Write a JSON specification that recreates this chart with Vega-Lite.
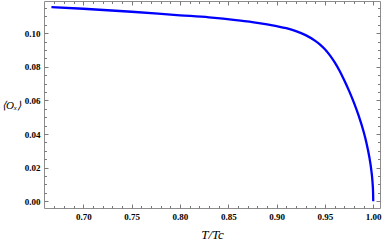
{
  "$schema": "https://vega.github.io/schema/vega-lite/v6.json",
  "autosize": {"type": "none"},
  "padding": {"left": 44, "top": 1, "right": 2, "bottom": 33},
  "width": 336,
  "height": 207,
  "background": "white",
  "config": {
    "view": {"stroke": "#8c8c8c", "strokeWidth": 1},
    "axis": {
      "domain": false,
      "grid": false,
      "tickColor": "#7a7a7a",
      "tickWidth": 1,
      "labelFont": "Liberation Serif",
      "labelFontWeight": "bold",
      "labelFontSize": 9,
      "labelColor": "black",
      "labelOverlap": false,
      "labelFlush": false,
      "titleFont": "Liberation Serif",
      "titleFontWeight": "normal",
      "titleColor": "black"
    }
  },
  "datasets": {
    "curve": [
      {"t": 0.667, "o": 0.1156},
      {"t": 0.70, "o": 0.1146},
      {"t": 0.75, "o": 0.1128},
      {"t": 0.80, "o": 0.1107},
      {"t": 0.83, "o": 0.1095},
      {"t": 0.86, "o": 0.1077},
      {"t": 0.88, "o": 0.1062},
      {"t": 0.90, "o": 0.1042},
      {"t": 0.91, "o": 0.1030},
      {"t": 0.92, "o": 0.1013},
      {"t": 0.93, "o": 0.0989},
      {"t": 0.94, "o": 0.0955},
      {"t": 0.945, "o": 0.0933},
      {"t": 0.95, "o": 0.0905},
      {"t": 0.955, "o": 0.0870},
      {"t": 0.96, "o": 0.0828},
      {"t": 0.965, "o": 0.0778},
      {"t": 0.97, "o": 0.0720},
      {"t": 0.975, "o": 0.0657},
      {"t": 0.98, "o": 0.0587},
      {"t": 0.985, "o": 0.0508},
      {"t": 0.99, "o": 0.0415},
      {"t": 0.993, "o": 0.0347},
      {"t": 0.996, "o": 0.0262},
      {"t": 0.998, "o": 0.0186},
      {"t": 0.9993, "o": 0.0110},
      {"t": 0.99985, "o": 0.0051},
      {"t": 1.0, "o": 0.0}
    ]
  },
  "data": {"name": "curve"},
  "resolve": {"axis": {"x": "independent", "y": "independent"}},
  "layer": [
    {
      "mark": {"type": "line", "color": "#0000ff", "strokeWidth": 2.3, "interpolate": "monotone", "clip": true},
      "encoding": {
        "x": {
          "field": "t", "type": "quantitative",
          "scale": {"domain": [0.6593, 1.007], "nice": false, "zero": false},
          "axis": {
            "orient": "bottom",
            "title": "T/Tc",
            "titleFontSize": 13,
            "titleFontStyle": "italic",
            "titleY": 30,
            "titleBaseline": "alphabetic",
            "values": [0.70, 0.75, 0.80, 0.85, 0.90, 0.95, 1.00],
            "format": ".2f",
            "tickSize": -4,
            "labelPadding": 8
          }
        },
        "y": {
          "field": "o", "type": "quantitative",
          "scale": {"domain": [-0.004, 0.1192], "nice": false, "zero": false},
          "axis": {
            "orient": "left",
            "title": "⟨Oₓ⟩",
            "titleFontSize": 11,
            "titleFontStyle": "italic",
            "titleAngle": 0,
            "titleAlign": "center",
            "titleBaseline": "middle",
            "titleX": -33,
            "titleY": 104,
            "values": [0, 0.02, 0.04, 0.06, 0.08, 0.10],
            "format": ".2f",
            "tickSize": -4,
            "labelPadding": 8
          }
        }
      }
    },
    {
      "mark": {"type": "line", "opacity": 0, "clip": true},
      "encoding": {
        "x": {
          "field": "t", "type": "quantitative",
          "axis": {"orient": "top", "title": null, "labels": false, "values": [0.70, 0.75, 0.80, 0.85, 0.90, 0.95, 1.00], "tickSize": -4}
        },
        "y": {
          "field": "o", "type": "quantitative",
          "axis": {"orient": "right", "title": null, "labels": false, "values": [0, 0.02, 0.04, 0.06, 0.08, 0.10], "tickSize": -4}
        }
      }
    },
    {
      "mark": {"type": "line", "opacity": 0, "clip": true},
      "encoding": {
        "x": {
          "field": "t", "type": "quantitative",
          "axis": {"orient": "bottom", "title": null, "labels": false, "values": [0.67,0.68,0.69,0.71,0.72,0.73,0.74,0.76,0.77,0.78,0.79,0.81,0.82,0.83,0.84,0.86,0.87,0.88,0.89,0.91,0.92,0.93,0.94,0.96,0.97,0.98,0.99], "tickSize": -2.5}
        },
        "y": {
          "field": "o", "type": "quantitative",
          "axis": {"orient": "left", "title": null, "labels": false, "values": [0.005,0.01,0.015,0.025,0.03,0.035,0.045,0.05,0.055,0.065,0.07,0.075,0.085,0.09,0.095,0.105,0.11,0.115], "tickSize": -2.5}
        }
      }
    },
    {
      "mark": {"type": "line", "opacity": 0, "clip": true},
      "encoding": {
        "x": {
          "field": "t", "type": "quantitative",
          "axis": {"orient": "top", "title": null, "labels": false, "values": [0.67,0.68,0.69,0.71,0.72,0.73,0.74,0.76,0.77,0.78,0.79,0.81,0.82,0.83,0.84,0.86,0.87,0.88,0.89,0.91,0.92,0.93,0.94,0.96,0.97,0.98,0.99], "tickSize": -2.5}
        },
        "y": {
          "field": "o", "type": "quantitative",
          "axis": {"orient": "right", "title": null, "labels": false, "values": [0.005,0.01,0.015,0.025,0.03,0.035,0.045,0.05,0.055,0.065,0.07,0.075,0.085,0.09,0.095,0.105,0.11,0.115], "tickSize": -2.5}
        }
      }
    }
  ]
}
